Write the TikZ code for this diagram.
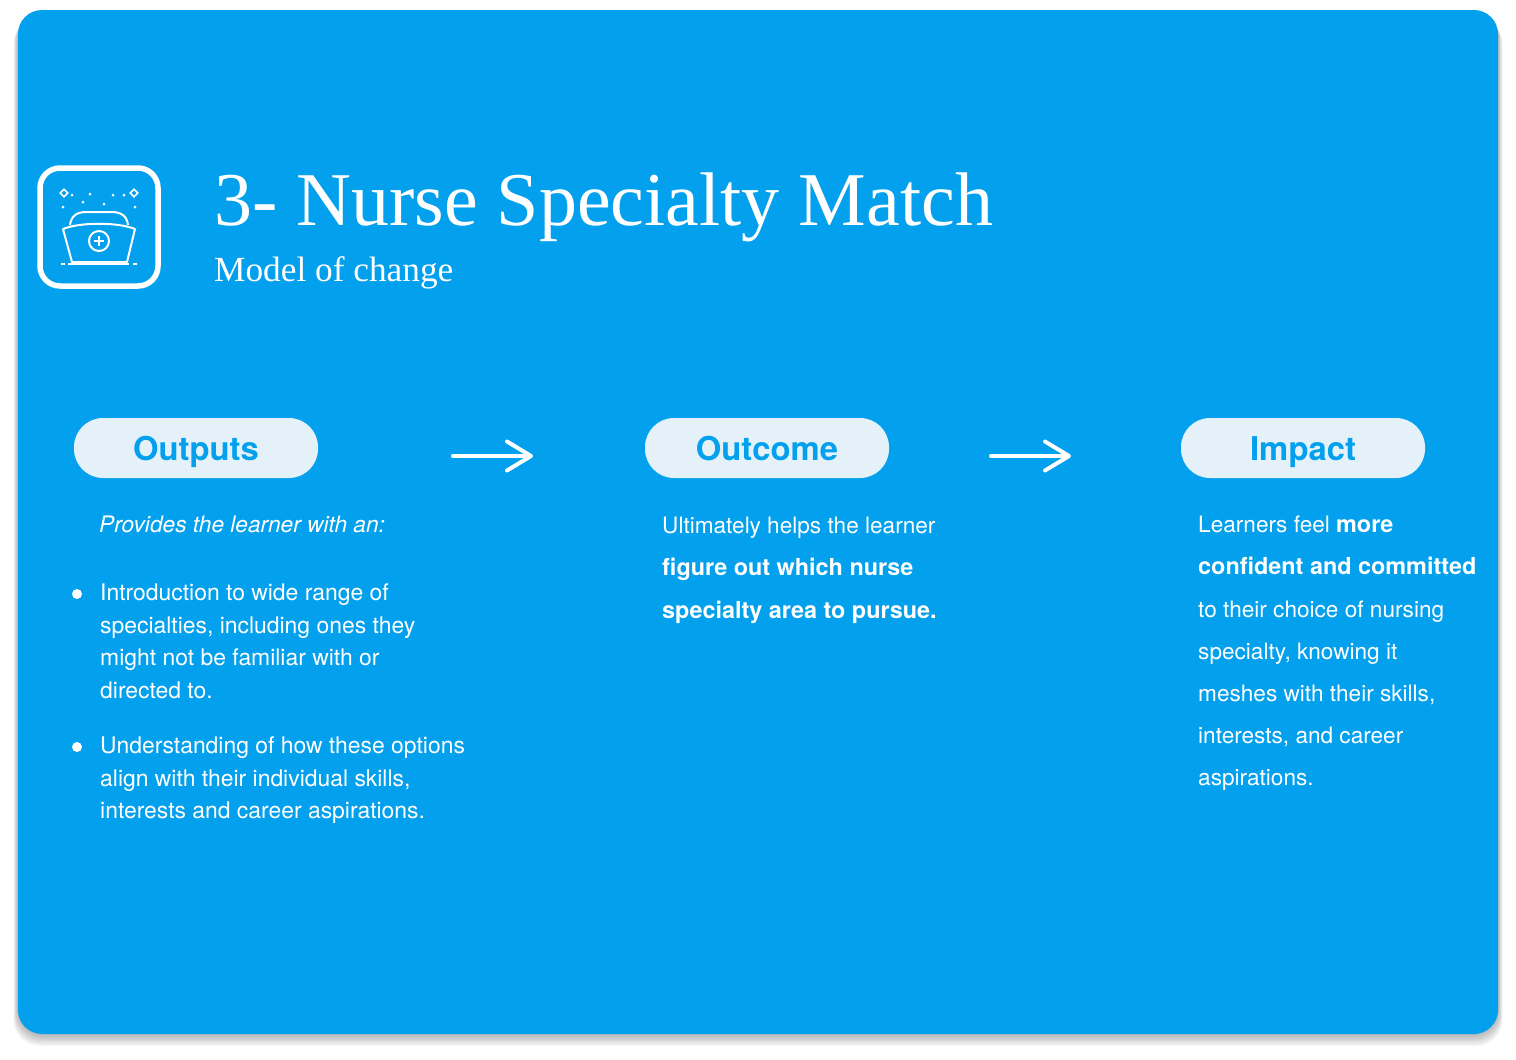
\documentclass[tikz,border=0pt]{standalone}
\usepackage{fontspec}
\setmainfont{TeX Gyre Heros}
\newfontfamily\titlefont{Liberation Serif}
\usetikzlibrary{arrows.meta,shapes.geometric}
\definecolor{panelblue}{HTML}{03A0EE}
\definecolor{pillfill}{HTML}{E4F1F8}
\begin{document}
\begin{tikzpicture}[
  x=1pt, y=-1pt,
  pill/.style={draw=none, fill=pillfill, rounded corners=29pt, minimum width=244pt, minimum height=60pt, inner sep=0pt, text height=25pt, text depth=0pt, text=panelblue, font=\fontsize{32.8}{32.8}\selectfont\bfseries},
  body/.style={anchor=north west, align=left, inner sep=0pt, text=white, font=\fontsize{22.9}{32.4}\selectfont},
  bodywide/.style={body, font=\fontsize{22.6}{42.2}\selectfont},
  arrow/.style={-{Straight Barb[length=24pt, width=29pt, round]}, line width=4pt, line cap=round, white},
  icon/.style={draw=white, line width=2pt, line join=round},
  sparkle/.style={circle, fill=white, inner sep=0pt, minimum size=3pt}
]
\useasboundingbox (0,0) rectangle (1516,1060);

% Panel with soft shadow
\foreach \i in {1,...,10}
  \fill[black, opacity=0.03, rounded corners=26pt] (18-\i*0.45,12+\i*0.6) rectangle (1498+\i*0.45,1034+\i*1.2);
\fill[panelblue, rounded corners=24pt] (18,10) rectangle (1498,1034);

% Icon
\draw[white, line width=5.5pt, rounded corners=20pt] (40,168) rectangle (158,286);
\draw[icon] (63,229) .. controls (80,222) and (118,222) .. (135,229) -- (127,262) -- (72,262) -- cycle;
\draw[icon] (70,225) .. controls (71,216) and (77,212) .. (86,212) -- (112,212) .. controls (121,212) and (127,216) .. (128,225);
\node[circle, draw=white, line width=2pt, minimum size=20pt, inner sep=0pt] (badge) at (99,241) {};
\draw[icon] (94,241) -- (104,241) (99,236) -- (99,246);
\draw[icon] (68,264) -- (129,264) (61,264) -- (65,264) (133,264) -- (137,264);
\foreach \px/\py in {72/195,90/194,83/202,104/204,113/195,124/195,135/207,63/207}
  \node[sparkle] at (\px,\py) {};
\foreach \px/\py in {64/193,134/193}
  \node[diamond, draw=white, line width=1.6pt, inner sep=0pt, minimum size=8pt] at (\px,\py) {};

% Title
\node[anchor=base west, inner sep=0pt, text=white, font=\titlefont\fontsize{76}{76}\selectfont] (title) at (214,225) {3- Nurse Specialty Match};
\node[anchor=base west, inner sep=0pt, text=white, font=\titlefont\fontsize{35.3}{35.3}\selectfont] (subtitle) at (214,281) {Model of change};

% Pills
\node[pill] (outputs) at (196,448) {Outputs};
\node[pill] (outcome) at (767,448) {Outcome};
\node[pill] (impact) at (1303,448) {Impact};

% Arrows
\coordinate (arrowa) at (453,456);
\coordinate (arrowb) at (533,456);
\coordinate (arrowc) at (991,456);
\coordinate (arrowd) at (1071,456);
\draw[arrow] (arrowa) -- (arrowb);
\draw[arrow] (arrowc) -- (arrowd);

% Outputs text
\node[body, font=\fontsize{22.7}{32.4}\selectfont\itshape] (intro) at (99,516) {Provides the learner with an:};
\node[circle, fill=white, inner sep=0pt, minimum size=10pt] (bulleta) at (77,594) {};
\node[body] (lista) at (100,584) {Introduction to wide range of\\specialties, including ones they\\might not be familiar with or\\directed to.};
\node[circle, fill=white, inner sep=0pt, minimum size=10pt] (bulletb) at (77,747) {};
\node[body] (listb) at (100,737) {Understanding of how these options\\align with their individual skills,\\interests and career aspirations.};

% Outcome text
\node[bodywide] (outcometext) at (662,517) {Ultimately helps the learner\\\textbf{\fontsize{23.4}{42.2}\selectfont figure out which nurse}\\\textbf{\fontsize{23.4}{42.2}\selectfont specialty area to pursue.}};

% Impact text
\node[bodywide] (impacttext) at (1198,516) {Learners feel \textbf{\fontsize{23.4}{42.2}\selectfont more}\\\textbf{\fontsize{23.4}{42.2}\selectfont confident and committed}\\to their choice of nursing\\specialty, knowing it\\meshes with their skills,\\interests, and career\\aspirations.};
\end{tikzpicture}
\end{document}
